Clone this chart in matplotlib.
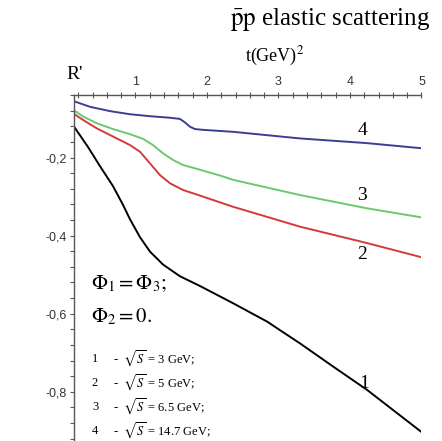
import matplotlib
matplotlib.use("Agg")
import matplotlib.pyplot as plt
from matplotlib.ticker import MultipleLocator, FuncFormatter

plt.rcParams["mathtext.fontset"] = "stix"
SERIF = "Liberation Serif"
SANS = "Liberation Sans"

# curves: t (GeV^2) and R'
t1 = [0.130, 0.336, 0.503, 0.685, 0.825, 0.923, 1.063, 1.203, 1.385, 1.622, 1.902,
      2.364, 2.839, 3.301, 3.762, 4.238, 4.993]
r1 = [-0.118, -0.173, -0.222, -0.273, -0.321, -0.358, -0.404, -0.441, -0.474, -0.504, -0.529,
      -0.573, -0.620, -0.676, -0.735, -0.795, -0.902]

t2 = [0.130, 0.270, 0.457, 0.685, 0.923, 1.063, 1.203, 1.343, 1.483, 1.664, 1.944,
      2.364, 3.301, 4.238, 4.993]
r2 = [-0.087, -0.104, -0.125, -0.146, -0.168, -0.185, -0.215, -0.245, -0.266, -0.283, -0.300,
      -0.326, -0.377, -0.419, -0.455]

t3 = [0.130, 0.270, 0.457, 0.685, 0.923, 1.105, 1.245, 1.385, 1.524, 1.664, 1.860,
      2.182, 2.364, 3.301, 4.238, 4.993]
r3 = [-0.078, -0.095, -0.112, -0.127, -0.140, -0.152, -0.168, -0.189, -0.206, -0.219, -0.229,
      -0.246, -0.257, -0.296, -0.330, -0.353]

t4 = [0.130, 0.364, 0.643, 0.923, 1.203, 1.483, 1.622, 1.692, 1.762, 1.832, 1.944,
      2.364, 3.301, 4.238, 4.993]
r4 = [-0.055, -0.070, -0.081, -0.089, -0.094, -0.098, -0.101, -0.110, -0.121, -0.127, -0.129,
      -0.134, -0.151, -0.163, -0.176]

curve_labels = ["1", "2", "3", "4"]
label_t = [4.20, 4.17, 4.17, 4.17]
label_r = [-0.778, -0.449, -0.298, -0.131]
colors = ["black", "#d43a3a", "#6cc86c", "#3d3d92"]

energies = ["3", "5", "6.5", "14.7"]

fig = plt.figure(figsize=(4.42, 4.41), dpi=100)
ax = fig.add_axes([0.1663, 0.0, 0.7873, 0.7846])

for t, r, c in zip([t1, t2, t3, t4], [r1, r2, r3, r4], colors):
    ax.plot(t, r, color=c, lw=1.4, solid_joinstyle="round")

for lab, x, y in zip(curve_labels, label_t, label_r):
    ax.text(x, y, lab, family=SERIF, fontsize=14, ha="center", va="center")

ax.set_xlim(0.133, 5.0)
ax.set_ylim(-0.926, -0.0397)

# x axis sits on top, only left and top spines
for s in ["right", "bottom"]:
    ax.spines[s].set_visible(False)
for s in ["left", "top"]:
    ax.spines[s].set_color("#555555")
    ax.spines[s].set_linewidth(1.0)
ax.xaxis.tick_top()
ax.xaxis.set_major_locator(MultipleLocator(1))
ax.xaxis.set_minor_locator(MultipleLocator(0.2))
ax.yaxis.set_major_locator(MultipleLocator(0.2))
ax.yaxis.set_minor_locator(MultipleLocator(0.04))
ax.yaxis.set_major_formatter(FuncFormatter(lambda v, p: ("-" if v < 0 else "") + f"{abs(v):.1f}".replace(".", ",")))
ax.tick_params(which="both", direction="out", length=3, width=0.8, color="#555555",
               labelsize=9, labelcolor="#333333", labelfontfamily=SANS)
ax.tick_params(axis="x", which="both", direction="inout", length=4, pad=3)
ax.tick_params(axis="y", pad=2)

fig.text(0.746, 0.955, r"$\bar{\mathrm{p}}\mathrm{p}$ elastic scattering", family=SERIF,
         fontsize=18, ha="center", va="center")
fig.text(0.170, 0.832, "R'", family=SERIF, fontsize=14, ha="center", va="center")
fig.text(0.622, 0.873, r"t(GeV)$^2$", family=SERIF, fontsize=13, ha="center", va="center")

fig.text(0.205, 0.357, r"$\Phi_1 = \Phi_3;$", fontsize=15, ha="left", va="center")
fig.text(0.205, 0.281, r"$\Phi_2 = 0.$", fontsize=15, ha="left", va="center")

for i, (lab, e) in enumerate(zip(curve_labels, energies)):
    y = 0.186 - i * 0.0545
    fig.text(0.208, y, lab, family=SERIF, fontsize=9, ha="left", va="center")
    fig.text(0.255, y, r"-  $\sqrt{S}$ = " + e + " GeV;", family=SERIF, fontsize=9,
             ha="left", va="center")

fig.savefig("out.png", dpi=100)
